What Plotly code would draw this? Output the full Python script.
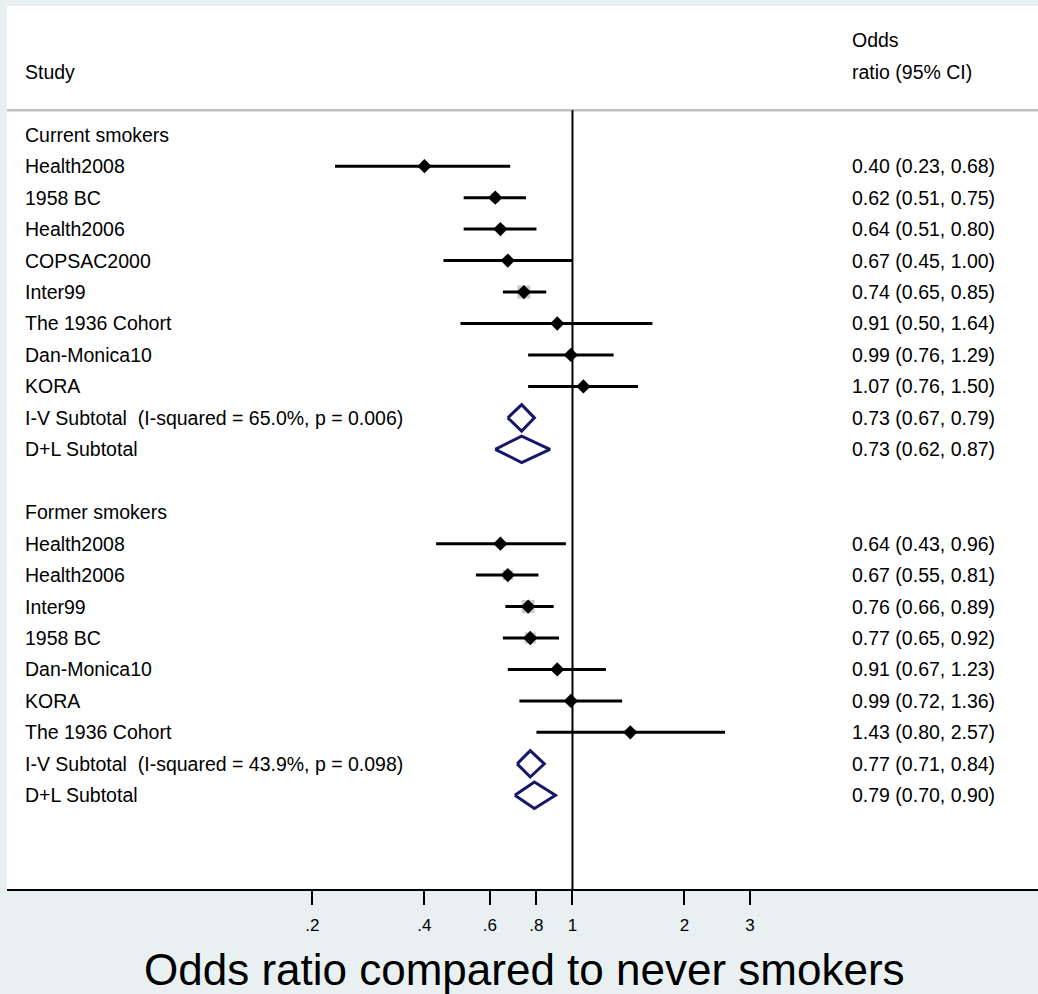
import math
import plotly.graph_objects as go

# ---- data ---------------------------------------------------------------
current_studies = ["Health2008", "1958 BC", "Health2006", "COPSAC2000", "Inter99",
                   "The 1936 Cohort", "Dan-Monica10", "KORA"]
current_or = [0.40, 0.62, 0.64, 0.67, 0.74, 0.91, 0.99, 1.07]
current_lo = [0.23, 0.51, 0.51, 0.45, 0.65, 0.50, 0.76, 0.76]
current_hi = [0.68, 0.75, 0.80, 1.00, 0.85, 1.64, 1.29, 1.50]
current_iv = (0.73, 0.67, 0.79)
current_dl = (0.73, 0.62, 0.87)
current_iv_label = "I-V Subtotal  (I-squared = 65.0%, p = 0.006)"

former_studies = ["Health2008", "Health2006", "Inter99", "1958 BC", "Dan-Monica10",
                  "KORA", "The 1936 Cohort"]
former_or = [0.64, 0.67, 0.76, 0.77, 0.91, 0.99, 1.43]
former_lo = [0.43, 0.55, 0.66, 0.65, 0.67, 0.72, 0.80]
former_hi = [0.96, 0.81, 0.89, 0.92, 1.23, 1.36, 2.57]
former_iv = (0.77, 0.71, 0.84)
former_dl = (0.79, 0.70, 0.90)
former_iv_label = "I-V Subtotal  (I-squared = 43.9%, p = 0.098)"

tick_vals = [0.2, 0.4, 0.6, 0.8, 1, 2, 3]
tick_text = [".2", ".4", ".6", ".8", "1", "2", "3"]

FONT = "Liberation Sans, Arial, sans-serif"
NAVY = "#16166b"
LBL = 19.5
LEFT_X = 0.0155   # study-name column (paper fraction)
RIGHT_X = 0.8177  # odds-ratio column (paper fraction)

fig = go.Figure()
annotations = []


def text_at(x, row, text, size=LBL):
    annotations.append(dict(x=x, y=row, xref="paper", yref="y", text=text,
                            showarrow=False, xanchor="left", yanchor="middle",
                            font=dict(family=FONT, size=size, color="black")))


def add_label(row, text):
    text_at(LEFT_X, row, text)


def add_value(row, est, lo, hi):
    text_at(RIGHT_X, row, f"{est:.2f} ({lo:.2f}, {hi:.2f})")


def add_studies(start_row, names, est, lo, hi):
    rows = [start_row + i for i in range(len(names))]
    widths = [math.log(h) - math.log(l) for l, h in zip(lo, hi)]
    ref = min(widths)
    box = [13.0 * ref / w for w in widths]
    # weight boxes
    fig.add_trace(go.Scatter(x=est, y=rows, mode="markers", hoverinfo="skip",
                             marker=dict(symbol="square", size=box, color="#b4b4b4",
                                         line=dict(width=0)), showlegend=False))
    # confidence intervals
    xs, ys = [], []
    for r, l, h in zip(rows, lo, hi):
        xs += [l, h, None]
        ys += [r, r, None]
    fig.add_trace(go.Scatter(x=xs, y=ys, mode="lines", hoverinfo="skip",
                             line=dict(color="black", width=3), showlegend=False))
    # point estimates
    fig.add_trace(go.Scatter(x=est, y=rows, mode="markers", hoverinfo="skip",
                             marker=dict(symbol="diamond", size=11, color="black"),
                             showlegend=False))
    for r, n, e, l, h in zip(rows, names, est, lo, hi):
        add_label(r, n)
        add_value(r, e, l, h)
    return rows[-1]


def add_diamond(row, est, lo, hi, label):
    hh = 0.42
    fig.add_trace(go.Scatter(x=[lo, est, hi, est, lo], y=[row, row - hh, row, row + hh, row],
                             mode="lines", hoverinfo="skip",
                             line=dict(color=NAVY, width=3), showlegend=False))
    add_label(row, label)
    add_value(row, est, lo, hi)


# header
add_label(-2, "Study")
text_at(RIGHT_X, -3, "Odds")
text_at(RIGHT_X, -2, "ratio (95% CI)")

# current smokers
add_label(0, "Current smokers")
last = add_studies(1, current_studies, current_or, current_lo, current_hi)
add_diamond(last + 1, *current_iv, current_iv_label)
add_diamond(last + 2, *current_dl, "D+L Subtotal")

# former smokers
start = last + 4
add_label(start, "Former smokers")
last = add_studies(start + 1, former_studies, former_or, former_lo, former_hi)
add_diamond(last + 1, *former_iv, former_iv_label)
add_diamond(last + 2, *former_dl, "D+L Subtotal")

# x axis title
annotations.append(dict(x=0.5024, y=-0.0917, xref="paper", yref="paper",
                        text="Odds ratio compared to never smokers", showarrow=False,
                        xanchor="center", yanchor="middle",
                        font=dict(family=FONT, size=44, color="black")))

shapes = [
    # header separator
    dict(type="line", xref="paper", yref="y", x0=0, x1=1, y0=-0.78, y1=-0.78,
         line=dict(color="#c0c0c0", width=2.5)),
    # line of no effect
    dict(type="line", xref="x", yref="y", x0=1, x1=1, y0=-0.78, y1=24,
         line=dict(color="black", width=2)),
]

fig.update_layout(
    width=1038, height=994,
    margin=dict(l=7, r=0, t=6, b=105),
    paper_bgcolor="#e9f0f2",
    plot_bgcolor="white",
    annotations=annotations,
    shapes=shapes,
    xaxis=dict(type="log", range=[-1.520, 1.2513], tickvals=tick_vals, ticktext=tick_text,
               showgrid=False, zeroline=False, showline=True, linecolor="black",
               linewidth=2, ticks="outside", ticklen=14, tickwidth=1.5,
               tickcolor="black", ticklabelstandoff=6,
               tickfont=dict(family=FONT, size=17, color="black")),
    yaxis=dict(range=[23.98, -4.094], showgrid=False, zeroline=False,
               showticklabels=False, showline=False),
)

fig.write_html("out.html")
